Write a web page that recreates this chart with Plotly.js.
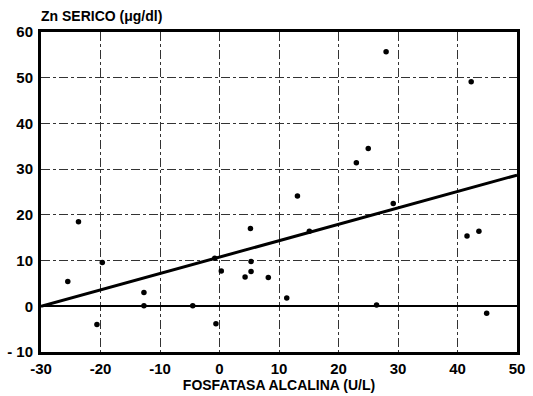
<!DOCTYPE html>
<html><head><meta charset="utf-8">
<script src="https://cdn.plot.ly/plotly-3.0.1.min.js"></script>
<style>html,body{margin:0;padding:0;background:#fff}#chart{width:533px;height:396px}</style>
</head><body><div id="chart"></div>
<script>
const fosfatasa = [-25.5, -23.7, -20.6, -19.7, -12.7, -12.7, -4.5, -0.8, -0.6, 0.3, 4.3, 5.2, 5.3, 5.3, 8.2, 11.3, 13.1, 15.1, 23.0, 25.0, 26.4, 28.0, 29.2, 41.6, 42.3, 43.6, 44.9];
const znSerico = [5.4, 18.5, -4.0, 9.6, 3.0, 0.1, 0.1, 10.5, -3.8, 7.7, 6.4, 17.0, 9.8, 7.6, 6.3, 1.8, 24.1, 16.4, 31.4, 34.5, 0.3, 55.7, 22.5, 15.4, 49.1, 16.4, -1.5];
const fitX = [-30, 50];
const fitY = [0, 28.7];
const xTicks = [-30, -20, -10, 0, 10, 20, 30, 40, 50];
const xTickText = ["-30", "-20", "-10", "0", "10", "20", "30", "40", "50"];
const yTicks = [-10, 0, 10, 20, 30, 40, 50, 60];
const yTickText = ["- 10", "0", "10", "20", "30", "40", "50", "60"];

const fam = "Liberation Sans, Arial, sans-serif";
const bold = s => "<b>" + s + "</b>";
const tickFont = {family: fam, size: 15, color: "#000"};
const data = [
  {x: fosfatasa, y: znSerico, type: "scatter", mode: "markers",
   marker: {color: "#000", size: 5.5}, showlegend: false, hoverinfo: "skip"},
  {x: fitX, y: fitY, type: "scatter", mode: "lines",
   line: {color: "#000", width: 3}, showlegend: false, hoverinfo: "skip"}
];
const axisCommon = {
  showline: true, mirror: true, linewidth: 3, linecolor: "#000",
  showgrid: true, gridcolor: "#333", gridwidth: 1, griddash: "dashdot",
  ticks: "", tickfont: tickFont, fixedrange: true
};
const layout = {
  width: 533, height: 396,
  margin: {l: 41, r: 16, t: 32, b: 44},
  paper_bgcolor: "#fff", plot_bgcolor: "#fff",
  font: {family: fam},
  title: {text: bold("Zn SERICO (μg/dl)"), font: {family: fam, size: 14, color: "#000"},
          x: 0, xref: "paper", xanchor: "left", y: 1 - 16/396, yref: "container", yanchor: "middle"},
  xaxis: Object.assign({}, axisCommon, {range: [-30, 50], tickvals: xTicks, ticktext: xTickText.map(bold), zeroline: false,
    ticklabelstandoff: 1,
    title: {text: bold("FOSFATASA ALCALINA (U/L)"), font: {family: fam, size: 14, color: "#000"}, standoff: 2}}),
  yaxis: Object.assign({}, axisCommon, {range: [-10, 60], tickvals: yTicks, ticktext: yTickText.map(bold),
    zeroline: true, zerolinecolor: "#000", zerolinewidth: 2, ticklabelstandoff: 2}),
};
Plotly.newPlot("chart", data, layout, {staticPlot: true, displayModeBar: false});
</script></body></html>
